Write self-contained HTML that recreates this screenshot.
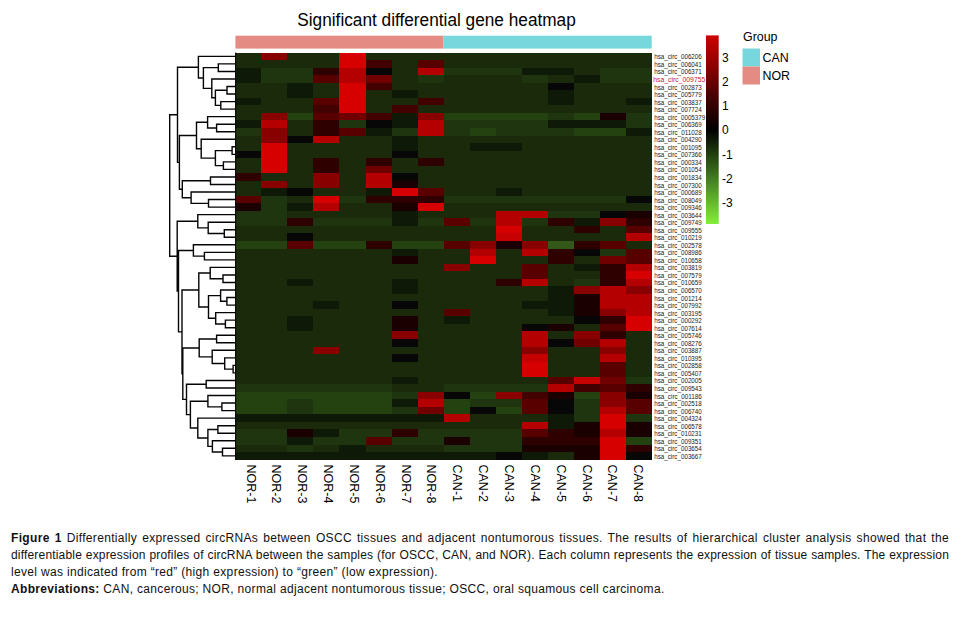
<!DOCTYPE html>
<html><head><meta charset="utf-8"><style>
html,body{margin:0;padding:0;background:#fff;}
body{width:962px;height:618px;position:relative;overflow:hidden;}
.cap{position:absolute;left:11px;top:530px;width:938px;font-family:"Liberation Sans",sans-serif;font-size:12px;color:#111;letter-spacing:0.33px;}
.ln{height:17px;line-height:17px;white-space:nowrap;}
.j{text-align:justify;text-align-last:justify;white-space:normal;}
</style></head><body>
<svg width="962" height="510" viewBox="0 0 962 510" style="position:absolute;left:0;top:0">
<style>
.rl{font-family:"Liberation Sans",sans-serif;font-size:6.9px;fill:#1a1a1a}
.cl{font-family:"Liberation Sans",sans-serif;font-size:12.5px;fill:#000}
.tk{font-family:"Liberation Sans",sans-serif;font-size:12px;fill:#000}
.tt{font-family:"Liberation Sans",sans-serif;font-size:18.3px;fill:#000}
.lg{font-family:"Liberation Sans",sans-serif;font-size:12.4px;fill:#000}
</style>
<defs><linearGradient id="kg" x1="0" y1="0" x2="0" y2="1">
<stop offset="0" stop-color="#cc0000"/><stop offset="0.5" stop-color="#000000"/><stop offset="1" stop-color="#80f03c"/>
</linearGradient></defs>
<rect x="706" y="35.4" width="12.7" height="188.6" fill="url(#kg)"/>
<text x="297.3" y="26" class="tt" textLength="278.5" lengthAdjust="spacingAndGlyphs">Significant differential gene heatmap</text>
<rect x="235.40" y="35.7" width="208.16" height="12.9" fill="#e48c84"/>
<rect x="443.56" y="35.7" width="208.16" height="12.9" fill="#78d7dc"/>
<g shape-rendering="crispEdges"><rect x="235.40" y="52.60" width="26.02" height="7.54" fill="#1a2a0b"/><rect x="261.42" y="52.60" width="26.02" height="7.54" fill="#880000"/><rect x="287.44" y="52.60" width="26.02" height="7.54" fill="#1a2a0b"/><rect x="313.46" y="52.60" width="26.02" height="7.54" fill="#1a2a0b"/><rect x="339.48" y="52.60" width="26.02" height="7.54" fill="#d60000"/><rect x="365.50" y="52.60" width="26.02" height="7.54" fill="#1a2a0b"/><rect x="391.52" y="52.60" width="26.02" height="7.54" fill="#1a2a0b"/><rect x="417.54" y="52.60" width="26.02" height="7.54" fill="#1a2a0b"/><rect x="443.56" y="52.60" width="26.02" height="7.54" fill="#1a2a0b"/><rect x="469.58" y="52.60" width="26.02" height="7.54" fill="#1a2a0b"/><rect x="495.60" y="52.60" width="26.02" height="7.54" fill="#1a2a0b"/><rect x="521.62" y="52.60" width="26.02" height="7.54" fill="#1a2a0b"/><rect x="547.64" y="52.60" width="26.02" height="7.54" fill="#1a2a0b"/><rect x="573.66" y="52.60" width="26.02" height="7.54" fill="#1a2a0b"/><rect x="599.68" y="52.60" width="26.02" height="7.54" fill="#1a2a0b"/><rect x="625.70" y="52.60" width="26.02" height="7.54" fill="#1a2a0b"/><rect x="235.40" y="60.14" width="26.02" height="7.54" fill="#1a2a0b"/><rect x="261.42" y="60.14" width="26.02" height="7.54" fill="#1a2a0b"/><rect x="287.44" y="60.14" width="26.02" height="7.54" fill="#1a2a0b"/><rect x="313.46" y="60.14" width="26.02" height="7.54" fill="#1a2a0b"/><rect x="339.48" y="60.14" width="26.02" height="7.54" fill="#d60000"/><rect x="365.50" y="60.14" width="26.02" height="7.54" fill="#420000"/><rect x="391.52" y="60.14" width="26.02" height="7.54" fill="#1a2a0b"/><rect x="417.54" y="60.14" width="26.02" height="7.54" fill="#580000"/><rect x="443.56" y="60.14" width="26.02" height="7.54" fill="#1a2a0b"/><rect x="469.58" y="60.14" width="26.02" height="7.54" fill="#1a2a0b"/><rect x="495.60" y="60.14" width="26.02" height="7.54" fill="#1a2a0b"/><rect x="521.62" y="60.14" width="26.02" height="7.54" fill="#1a2a0b"/><rect x="547.64" y="60.14" width="26.02" height="7.54" fill="#1a2a0b"/><rect x="573.66" y="60.14" width="26.02" height="7.54" fill="#1a2a0b"/><rect x="599.68" y="60.14" width="26.02" height="7.54" fill="#1a2a0b"/><rect x="625.70" y="60.14" width="26.02" height="7.54" fill="#1a2a0b"/><rect x="235.40" y="67.67" width="26.02" height="7.54" fill="#0f1907"/><rect x="261.42" y="67.67" width="26.02" height="7.54" fill="#1f3510"/><rect x="287.44" y="67.67" width="26.02" height="7.54" fill="#1f3510"/><rect x="313.46" y="67.67" width="26.02" height="7.54" fill="#2e0000"/><rect x="339.48" y="67.67" width="26.02" height="7.54" fill="#b40000"/><rect x="365.50" y="67.67" width="26.02" height="7.54" fill="#070707"/><rect x="391.52" y="67.67" width="26.02" height="7.54" fill="#1a2a0b"/><rect x="417.54" y="67.67" width="26.02" height="7.54" fill="#b40000"/><rect x="443.56" y="67.67" width="26.02" height="7.54" fill="#1f3510"/><rect x="469.58" y="67.67" width="26.02" height="7.54" fill="#1f3510"/><rect x="495.60" y="67.67" width="26.02" height="7.54" fill="#1f3510"/><rect x="521.62" y="67.67" width="26.02" height="7.54" fill="#0f1907"/><rect x="547.64" y="67.67" width="26.02" height="7.54" fill="#0f1907"/><rect x="573.66" y="67.67" width="26.02" height="7.54" fill="#1a2a0b"/><rect x="599.68" y="67.67" width="26.02" height="7.54" fill="#1f3510"/><rect x="625.70" y="67.67" width="26.02" height="7.54" fill="#1f3510"/><rect x="235.40" y="75.21" width="26.02" height="7.54" fill="#0f1907"/><rect x="261.42" y="75.21" width="26.02" height="7.54" fill="#1f3510"/><rect x="287.44" y="75.21" width="26.02" height="7.54" fill="#1f3510"/><rect x="313.46" y="75.21" width="26.02" height="7.54" fill="#580000"/><rect x="339.48" y="75.21" width="26.02" height="7.54" fill="#b40000"/><rect x="365.50" y="75.21" width="26.02" height="7.54" fill="#700000"/><rect x="391.52" y="75.21" width="26.02" height="7.54" fill="#1a2a0b"/><rect x="417.54" y="75.21" width="26.02" height="7.54" fill="#1f3510"/><rect x="443.56" y="75.21" width="26.02" height="7.54" fill="#1a2a0b"/><rect x="469.58" y="75.21" width="26.02" height="7.54" fill="#1a2a0b"/><rect x="495.60" y="75.21" width="26.02" height="7.54" fill="#1a2a0b"/><rect x="521.62" y="75.21" width="26.02" height="7.54" fill="#1f3510"/><rect x="547.64" y="75.21" width="26.02" height="7.54" fill="#1a2a0b"/><rect x="573.66" y="75.21" width="26.02" height="7.54" fill="#0f1907"/><rect x="599.68" y="75.21" width="26.02" height="7.54" fill="#1f3510"/><rect x="625.70" y="75.21" width="26.02" height="7.54" fill="#1f3510"/><rect x="235.40" y="82.75" width="26.02" height="7.54" fill="#1a2a0b"/><rect x="261.42" y="82.75" width="26.02" height="7.54" fill="#1a2a0b"/><rect x="287.44" y="82.75" width="26.02" height="7.54" fill="#0f1907"/><rect x="313.46" y="82.75" width="26.02" height="7.54" fill="#1a2a0b"/><rect x="339.48" y="82.75" width="26.02" height="7.54" fill="#d60000"/><rect x="365.50" y="82.75" width="26.02" height="7.54" fill="#420000"/><rect x="391.52" y="82.75" width="26.02" height="7.54" fill="#1a2a0b"/><rect x="417.54" y="82.75" width="26.02" height="7.54" fill="#1a2a0b"/><rect x="443.56" y="82.75" width="26.02" height="7.54" fill="#1a2a0b"/><rect x="469.58" y="82.75" width="26.02" height="7.54" fill="#1a2a0b"/><rect x="495.60" y="82.75" width="26.02" height="7.54" fill="#1a2a0b"/><rect x="521.62" y="82.75" width="26.02" height="7.54" fill="#1a2a0b"/><rect x="547.64" y="82.75" width="26.02" height="7.54" fill="#070707"/><rect x="573.66" y="82.75" width="26.02" height="7.54" fill="#1a2a0b"/><rect x="599.68" y="82.75" width="26.02" height="7.54" fill="#1a2a0b"/><rect x="625.70" y="82.75" width="26.02" height="7.54" fill="#1a2a0b"/><rect x="235.40" y="90.28" width="26.02" height="7.54" fill="#1a2a0b"/><rect x="261.42" y="90.28" width="26.02" height="7.54" fill="#1a2a0b"/><rect x="287.44" y="90.28" width="26.02" height="7.54" fill="#0f1907"/><rect x="313.46" y="90.28" width="26.02" height="7.54" fill="#1a2a0b"/><rect x="339.48" y="90.28" width="26.02" height="7.54" fill="#d60000"/><rect x="365.50" y="90.28" width="26.02" height="7.54" fill="#1a2a0b"/><rect x="391.52" y="90.28" width="26.02" height="7.54" fill="#0f1907"/><rect x="417.54" y="90.28" width="26.02" height="7.54" fill="#1a2a0b"/><rect x="443.56" y="90.28" width="26.02" height="7.54" fill="#1a2a0b"/><rect x="469.58" y="90.28" width="26.02" height="7.54" fill="#1a2a0b"/><rect x="495.60" y="90.28" width="26.02" height="7.54" fill="#1a2a0b"/><rect x="521.62" y="90.28" width="26.02" height="7.54" fill="#1a2a0b"/><rect x="547.64" y="90.28" width="26.02" height="7.54" fill="#0f1907"/><rect x="573.66" y="90.28" width="26.02" height="7.54" fill="#1a2a0b"/><rect x="599.68" y="90.28" width="26.02" height="7.54" fill="#1a2a0b"/><rect x="625.70" y="90.28" width="26.02" height="7.54" fill="#1a2a0b"/><rect x="235.40" y="97.82" width="26.02" height="7.54" fill="#0f1907"/><rect x="261.42" y="97.82" width="26.02" height="7.54" fill="#1a2a0b"/><rect x="287.44" y="97.82" width="26.02" height="7.54" fill="#1a2a0b"/><rect x="313.46" y="97.82" width="26.02" height="7.54" fill="#580000"/><rect x="339.48" y="97.82" width="26.02" height="7.54" fill="#d60000"/><rect x="365.50" y="97.82" width="26.02" height="7.54" fill="#1a2a0b"/><rect x="391.52" y="97.82" width="26.02" height="7.54" fill="#1a2a0b"/><rect x="417.54" y="97.82" width="26.02" height="7.54" fill="#420000"/><rect x="443.56" y="97.82" width="26.02" height="7.54" fill="#1a2a0b"/><rect x="469.58" y="97.82" width="26.02" height="7.54" fill="#1a2a0b"/><rect x="495.60" y="97.82" width="26.02" height="7.54" fill="#1a2a0b"/><rect x="521.62" y="97.82" width="26.02" height="7.54" fill="#1a2a0b"/><rect x="547.64" y="97.82" width="26.02" height="7.54" fill="#0f1907"/><rect x="573.66" y="97.82" width="26.02" height="7.54" fill="#1a2a0b"/><rect x="599.68" y="97.82" width="26.02" height="7.54" fill="#1a2a0b"/><rect x="625.70" y="97.82" width="26.02" height="7.54" fill="#0f1907"/><rect x="235.40" y="105.36" width="26.02" height="7.54" fill="#1a2a0b"/><rect x="261.42" y="105.36" width="26.02" height="7.54" fill="#1a2a0b"/><rect x="287.44" y="105.36" width="26.02" height="7.54" fill="#1a2a0b"/><rect x="313.46" y="105.36" width="26.02" height="7.54" fill="#420000"/><rect x="339.48" y="105.36" width="26.02" height="7.54" fill="#d60000"/><rect x="365.50" y="105.36" width="26.02" height="7.54" fill="#1a2a0b"/><rect x="391.52" y="105.36" width="26.02" height="7.54" fill="#420000"/><rect x="417.54" y="105.36" width="26.02" height="7.54" fill="#1a2a0b"/><rect x="443.56" y="105.36" width="26.02" height="7.54" fill="#1a2a0b"/><rect x="469.58" y="105.36" width="26.02" height="7.54" fill="#1a2a0b"/><rect x="495.60" y="105.36" width="26.02" height="7.54" fill="#1a2a0b"/><rect x="521.62" y="105.36" width="26.02" height="7.54" fill="#1a2a0b"/><rect x="547.64" y="105.36" width="26.02" height="7.54" fill="#1a2a0b"/><rect x="573.66" y="105.36" width="26.02" height="7.54" fill="#1a2a0b"/><rect x="599.68" y="105.36" width="26.02" height="7.54" fill="#1a2a0b"/><rect x="625.70" y="105.36" width="26.02" height="7.54" fill="#1a2a0b"/><rect x="235.40" y="112.90" width="26.02" height="7.54" fill="#1a2a0b"/><rect x="261.42" y="112.90" width="26.02" height="7.54" fill="#880000"/><rect x="287.44" y="112.90" width="26.02" height="7.54" fill="#24420f"/><rect x="313.46" y="112.90" width="26.02" height="7.54" fill="#580000"/><rect x="339.48" y="112.90" width="26.02" height="7.54" fill="#700000"/><rect x="365.50" y="112.90" width="26.02" height="7.54" fill="#420000"/><rect x="391.52" y="112.90" width="26.02" height="7.54" fill="#0f1907"/><rect x="417.54" y="112.90" width="26.02" height="7.54" fill="#880000"/><rect x="443.56" y="112.90" width="26.02" height="7.54" fill="#24420f"/><rect x="469.58" y="112.90" width="26.02" height="7.54" fill="#24420f"/><rect x="495.60" y="112.90" width="26.02" height="7.54" fill="#24420f"/><rect x="521.62" y="112.90" width="26.02" height="7.54" fill="#24420f"/><rect x="547.64" y="112.90" width="26.02" height="7.54" fill="#1f3510"/><rect x="573.66" y="112.90" width="26.02" height="7.54" fill="#24420f"/><rect x="599.68" y="112.90" width="26.02" height="7.54" fill="#1a0000"/><rect x="625.70" y="112.90" width="26.02" height="7.54" fill="#1f3510"/><rect x="235.40" y="120.43" width="26.02" height="7.54" fill="#0f1907"/><rect x="261.42" y="120.43" width="26.02" height="7.54" fill="#b40000"/><rect x="287.44" y="120.43" width="26.02" height="7.54" fill="#1a2a0b"/><rect x="313.46" y="120.43" width="26.02" height="7.54" fill="#2e0000"/><rect x="339.48" y="120.43" width="26.02" height="7.54" fill="#1f3510"/><rect x="365.50" y="120.43" width="26.02" height="7.54" fill="#070707"/><rect x="391.52" y="120.43" width="26.02" height="7.54" fill="#0f1907"/><rect x="417.54" y="120.43" width="26.02" height="7.54" fill="#b40000"/><rect x="443.56" y="120.43" width="26.02" height="7.54" fill="#1f3510"/><rect x="469.58" y="120.43" width="26.02" height="7.54" fill="#1f3510"/><rect x="495.60" y="120.43" width="26.02" height="7.54" fill="#1f3510"/><rect x="521.62" y="120.43" width="26.02" height="7.54" fill="#1f3510"/><rect x="547.64" y="120.43" width="26.02" height="7.54" fill="#0f1907"/><rect x="573.66" y="120.43" width="26.02" height="7.54" fill="#0f1907"/><rect x="599.68" y="120.43" width="26.02" height="7.54" fill="#0f1907"/><rect x="625.70" y="120.43" width="26.02" height="7.54" fill="#1f3510"/><rect x="235.40" y="127.97" width="26.02" height="7.54" fill="#1f3510"/><rect x="261.42" y="127.97" width="26.02" height="7.54" fill="#880000"/><rect x="287.44" y="127.97" width="26.02" height="7.54" fill="#1a2a0b"/><rect x="313.46" y="127.97" width="26.02" height="7.54" fill="#2e0000"/><rect x="339.48" y="127.97" width="26.02" height="7.54" fill="#580000"/><rect x="365.50" y="127.97" width="26.02" height="7.54" fill="#0f1907"/><rect x="391.52" y="127.97" width="26.02" height="7.54" fill="#1f3510"/><rect x="417.54" y="127.97" width="26.02" height="7.54" fill="#b40000"/><rect x="443.56" y="127.97" width="26.02" height="7.54" fill="#1f3510"/><rect x="469.58" y="127.97" width="26.02" height="7.54" fill="#24420f"/><rect x="495.60" y="127.97" width="26.02" height="7.54" fill="#1f3510"/><rect x="521.62" y="127.97" width="26.02" height="7.54" fill="#1f3510"/><rect x="547.64" y="127.97" width="26.02" height="7.54" fill="#1f3510"/><rect x="573.66" y="127.97" width="26.02" height="7.54" fill="#24420f"/><rect x="599.68" y="127.97" width="26.02" height="7.54" fill="#24420f"/><rect x="625.70" y="127.97" width="26.02" height="7.54" fill="#0f1907"/><rect x="235.40" y="135.51" width="26.02" height="7.54" fill="#1a2a0b"/><rect x="261.42" y="135.51" width="26.02" height="7.54" fill="#880000"/><rect x="287.44" y="135.51" width="26.02" height="7.54" fill="#070707"/><rect x="313.46" y="135.51" width="26.02" height="7.54" fill="#b40000"/><rect x="339.48" y="135.51" width="26.02" height="7.54" fill="#1a2a0b"/><rect x="365.50" y="135.51" width="26.02" height="7.54" fill="#1a2a0b"/><rect x="391.52" y="135.51" width="26.02" height="7.54" fill="#0f1907"/><rect x="417.54" y="135.51" width="26.02" height="7.54" fill="#1a2a0b"/><rect x="443.56" y="135.51" width="26.02" height="7.54" fill="#1a2a0b"/><rect x="469.58" y="135.51" width="26.02" height="7.54" fill="#1a2a0b"/><rect x="495.60" y="135.51" width="26.02" height="7.54" fill="#1a2a0b"/><rect x="521.62" y="135.51" width="26.02" height="7.54" fill="#1a2a0b"/><rect x="547.64" y="135.51" width="26.02" height="7.54" fill="#1a2a0b"/><rect x="573.66" y="135.51" width="26.02" height="7.54" fill="#1a2a0b"/><rect x="599.68" y="135.51" width="26.02" height="7.54" fill="#1a2a0b"/><rect x="625.70" y="135.51" width="26.02" height="7.54" fill="#1a2a0b"/><rect x="235.40" y="143.04" width="26.02" height="7.54" fill="#1a2a0b"/><rect x="261.42" y="143.04" width="26.02" height="7.54" fill="#d60000"/><rect x="287.44" y="143.04" width="26.02" height="7.54" fill="#1a2a0b"/><rect x="313.46" y="143.04" width="26.02" height="7.54" fill="#1a2a0b"/><rect x="339.48" y="143.04" width="26.02" height="7.54" fill="#1a2a0b"/><rect x="365.50" y="143.04" width="26.02" height="7.54" fill="#1a2a0b"/><rect x="391.52" y="143.04" width="26.02" height="7.54" fill="#0f1907"/><rect x="417.54" y="143.04" width="26.02" height="7.54" fill="#1a2a0b"/><rect x="443.56" y="143.04" width="26.02" height="7.54" fill="#1a2a0b"/><rect x="469.58" y="143.04" width="26.02" height="7.54" fill="#0f1907"/><rect x="495.60" y="143.04" width="26.02" height="7.54" fill="#0f1907"/><rect x="521.62" y="143.04" width="26.02" height="7.54" fill="#1a2a0b"/><rect x="547.64" y="143.04" width="26.02" height="7.54" fill="#1a2a0b"/><rect x="573.66" y="143.04" width="26.02" height="7.54" fill="#1a2a0b"/><rect x="599.68" y="143.04" width="26.02" height="7.54" fill="#1a2a0b"/><rect x="625.70" y="143.04" width="26.02" height="7.54" fill="#1a2a0b"/><rect x="235.40" y="150.58" width="26.02" height="7.54" fill="#070707"/><rect x="261.42" y="150.58" width="26.02" height="7.54" fill="#d60000"/><rect x="287.44" y="150.58" width="26.02" height="7.54" fill="#1a2a0b"/><rect x="313.46" y="150.58" width="26.02" height="7.54" fill="#1a2a0b"/><rect x="339.48" y="150.58" width="26.02" height="7.54" fill="#1a2a0b"/><rect x="365.50" y="150.58" width="26.02" height="7.54" fill="#1a2a0b"/><rect x="391.52" y="150.58" width="26.02" height="7.54" fill="#070707"/><rect x="417.54" y="150.58" width="26.02" height="7.54" fill="#1a2a0b"/><rect x="443.56" y="150.58" width="26.02" height="7.54" fill="#1a2a0b"/><rect x="469.58" y="150.58" width="26.02" height="7.54" fill="#1a2a0b"/><rect x="495.60" y="150.58" width="26.02" height="7.54" fill="#1a2a0b"/><rect x="521.62" y="150.58" width="26.02" height="7.54" fill="#1a2a0b"/><rect x="547.64" y="150.58" width="26.02" height="7.54" fill="#1a2a0b"/><rect x="573.66" y="150.58" width="26.02" height="7.54" fill="#1a2a0b"/><rect x="599.68" y="150.58" width="26.02" height="7.54" fill="#1a2a0b"/><rect x="625.70" y="150.58" width="26.02" height="7.54" fill="#1a2a0b"/><rect x="235.40" y="158.12" width="26.02" height="7.54" fill="#1a2a0b"/><rect x="261.42" y="158.12" width="26.02" height="7.54" fill="#d60000"/><rect x="287.44" y="158.12" width="26.02" height="7.54" fill="#1a2a0b"/><rect x="313.46" y="158.12" width="26.02" height="7.54" fill="#2e0000"/><rect x="339.48" y="158.12" width="26.02" height="7.54" fill="#1a2a0b"/><rect x="365.50" y="158.12" width="26.02" height="7.54" fill="#2e0000"/><rect x="391.52" y="158.12" width="26.02" height="7.54" fill="#1a2a0b"/><rect x="417.54" y="158.12" width="26.02" height="7.54" fill="#2e0000"/><rect x="443.56" y="158.12" width="26.02" height="7.54" fill="#1a2a0b"/><rect x="469.58" y="158.12" width="26.02" height="7.54" fill="#1a2a0b"/><rect x="495.60" y="158.12" width="26.02" height="7.54" fill="#1a2a0b"/><rect x="521.62" y="158.12" width="26.02" height="7.54" fill="#1a2a0b"/><rect x="547.64" y="158.12" width="26.02" height="7.54" fill="#1a2a0b"/><rect x="573.66" y="158.12" width="26.02" height="7.54" fill="#1a2a0b"/><rect x="599.68" y="158.12" width="26.02" height="7.54" fill="#1a2a0b"/><rect x="625.70" y="158.12" width="26.02" height="7.54" fill="#1a2a0b"/><rect x="235.40" y="165.66" width="26.02" height="7.54" fill="#1a2a0b"/><rect x="261.42" y="165.66" width="26.02" height="7.54" fill="#d60000"/><rect x="287.44" y="165.66" width="26.02" height="7.54" fill="#1a2a0b"/><rect x="313.46" y="165.66" width="26.02" height="7.54" fill="#2e0000"/><rect x="339.48" y="165.66" width="26.02" height="7.54" fill="#1a2a0b"/><rect x="365.50" y="165.66" width="26.02" height="7.54" fill="#700000"/><rect x="391.52" y="165.66" width="26.02" height="7.54" fill="#1a2a0b"/><rect x="417.54" y="165.66" width="26.02" height="7.54" fill="#1a2a0b"/><rect x="443.56" y="165.66" width="26.02" height="7.54" fill="#1a2a0b"/><rect x="469.58" y="165.66" width="26.02" height="7.54" fill="#1a2a0b"/><rect x="495.60" y="165.66" width="26.02" height="7.54" fill="#1a2a0b"/><rect x="521.62" y="165.66" width="26.02" height="7.54" fill="#1a2a0b"/><rect x="547.64" y="165.66" width="26.02" height="7.54" fill="#1a2a0b"/><rect x="573.66" y="165.66" width="26.02" height="7.54" fill="#1a2a0b"/><rect x="599.68" y="165.66" width="26.02" height="7.54" fill="#1a2a0b"/><rect x="625.70" y="165.66" width="26.02" height="7.54" fill="#1a2a0b"/><rect x="235.40" y="173.19" width="26.02" height="7.54" fill="#2e0000"/><rect x="261.42" y="173.19" width="26.02" height="7.54" fill="#1a2a0b"/><rect x="287.44" y="173.19" width="26.02" height="7.54" fill="#1a2a0b"/><rect x="313.46" y="173.19" width="26.02" height="7.54" fill="#880000"/><rect x="339.48" y="173.19" width="26.02" height="7.54" fill="#1a2a0b"/><rect x="365.50" y="173.19" width="26.02" height="7.54" fill="#b40000"/><rect x="391.52" y="173.19" width="26.02" height="7.54" fill="#070707"/><rect x="417.54" y="173.19" width="26.02" height="7.54" fill="#1a2a0b"/><rect x="443.56" y="173.19" width="26.02" height="7.54" fill="#1a2a0b"/><rect x="469.58" y="173.19" width="26.02" height="7.54" fill="#1a2a0b"/><rect x="495.60" y="173.19" width="26.02" height="7.54" fill="#1a2a0b"/><rect x="521.62" y="173.19" width="26.02" height="7.54" fill="#1a2a0b"/><rect x="547.64" y="173.19" width="26.02" height="7.54" fill="#1a2a0b"/><rect x="573.66" y="173.19" width="26.02" height="7.54" fill="#1a2a0b"/><rect x="599.68" y="173.19" width="26.02" height="7.54" fill="#1a2a0b"/><rect x="625.70" y="173.19" width="26.02" height="7.54" fill="#1a2a0b"/><rect x="235.40" y="180.73" width="26.02" height="7.54" fill="#1a2a0b"/><rect x="261.42" y="180.73" width="26.02" height="7.54" fill="#880000"/><rect x="287.44" y="180.73" width="26.02" height="7.54" fill="#1a2a0b"/><rect x="313.46" y="180.73" width="26.02" height="7.54" fill="#880000"/><rect x="339.48" y="180.73" width="26.02" height="7.54" fill="#1a2a0b"/><rect x="365.50" y="180.73" width="26.02" height="7.54" fill="#b40000"/><rect x="391.52" y="180.73" width="26.02" height="7.54" fill="#1a0000"/><rect x="417.54" y="180.73" width="26.02" height="7.54" fill="#1a2a0b"/><rect x="443.56" y="180.73" width="26.02" height="7.54" fill="#1a2a0b"/><rect x="469.58" y="180.73" width="26.02" height="7.54" fill="#1a2a0b"/><rect x="495.60" y="180.73" width="26.02" height="7.54" fill="#1a2a0b"/><rect x="521.62" y="180.73" width="26.02" height="7.54" fill="#1a2a0b"/><rect x="547.64" y="180.73" width="26.02" height="7.54" fill="#1a2a0b"/><rect x="573.66" y="180.73" width="26.02" height="7.54" fill="#1a2a0b"/><rect x="599.68" y="180.73" width="26.02" height="7.54" fill="#1a2a0b"/><rect x="625.70" y="180.73" width="26.02" height="7.54" fill="#1a2a0b"/><rect x="235.40" y="188.27" width="26.02" height="7.54" fill="#1a2a0b"/><rect x="261.42" y="188.27" width="26.02" height="7.54" fill="#0f1907"/><rect x="287.44" y="188.27" width="26.02" height="7.54" fill="#070707"/><rect x="313.46" y="188.27" width="26.02" height="7.54" fill="#1a2a0b"/><rect x="339.48" y="188.27" width="26.02" height="7.54" fill="#1a2a0b"/><rect x="365.50" y="188.27" width="26.02" height="7.54" fill="#0f1907"/><rect x="391.52" y="188.27" width="26.02" height="7.54" fill="#d60000"/><rect x="417.54" y="188.27" width="26.02" height="7.54" fill="#580000"/><rect x="443.56" y="188.27" width="26.02" height="7.54" fill="#1a2a0b"/><rect x="469.58" y="188.27" width="26.02" height="7.54" fill="#1a2a0b"/><rect x="495.60" y="188.27" width="26.02" height="7.54" fill="#0f1907"/><rect x="521.62" y="188.27" width="26.02" height="7.54" fill="#1a2a0b"/><rect x="547.64" y="188.27" width="26.02" height="7.54" fill="#1a2a0b"/><rect x="573.66" y="188.27" width="26.02" height="7.54" fill="#1a2a0b"/><rect x="599.68" y="188.27" width="26.02" height="7.54" fill="#1a2a0b"/><rect x="625.70" y="188.27" width="26.02" height="7.54" fill="#1a2a0b"/><rect x="235.40" y="195.80" width="26.02" height="7.54" fill="#580000"/><rect x="261.42" y="195.80" width="26.02" height="7.54" fill="#1f3510"/><rect x="287.44" y="195.80" width="26.02" height="7.54" fill="#1a2a0b"/><rect x="313.46" y="195.80" width="26.02" height="7.54" fill="#d60000"/><rect x="339.48" y="195.80" width="26.02" height="7.54" fill="#1f3510"/><rect x="365.50" y="195.80" width="26.02" height="7.54" fill="#2e0000"/><rect x="391.52" y="195.80" width="26.02" height="7.54" fill="#2e0000"/><rect x="417.54" y="195.80" width="26.02" height="7.54" fill="#2e0000"/><rect x="443.56" y="195.80" width="26.02" height="7.54" fill="#1f3510"/><rect x="469.58" y="195.80" width="26.02" height="7.54" fill="#1f3510"/><rect x="495.60" y="195.80" width="26.02" height="7.54" fill="#1f3510"/><rect x="521.62" y="195.80" width="26.02" height="7.54" fill="#1f3510"/><rect x="547.64" y="195.80" width="26.02" height="7.54" fill="#1f3510"/><rect x="573.66" y="195.80" width="26.02" height="7.54" fill="#1f3510"/><rect x="599.68" y="195.80" width="26.02" height="7.54" fill="#1f3510"/><rect x="625.70" y="195.80" width="26.02" height="7.54" fill="#070707"/><rect x="235.40" y="203.34" width="26.02" height="7.54" fill="#1a0000"/><rect x="261.42" y="203.34" width="26.02" height="7.54" fill="#1f3510"/><rect x="287.44" y="203.34" width="26.02" height="7.54" fill="#0f1907"/><rect x="313.46" y="203.34" width="26.02" height="7.54" fill="#b40000"/><rect x="339.48" y="203.34" width="26.02" height="7.54" fill="#1a2a0b"/><rect x="365.50" y="203.34" width="26.02" height="7.54" fill="#1a2a0b"/><rect x="391.52" y="203.34" width="26.02" height="7.54" fill="#1a0000"/><rect x="417.54" y="203.34" width="26.02" height="7.54" fill="#d60000"/><rect x="443.56" y="203.34" width="26.02" height="7.54" fill="#1a2a0b"/><rect x="469.58" y="203.34" width="26.02" height="7.54" fill="#1a2a0b"/><rect x="495.60" y="203.34" width="26.02" height="7.54" fill="#1a2a0b"/><rect x="521.62" y="203.34" width="26.02" height="7.54" fill="#1a2a0b"/><rect x="547.64" y="203.34" width="26.02" height="7.54" fill="#1a2a0b"/><rect x="573.66" y="203.34" width="26.02" height="7.54" fill="#1a2a0b"/><rect x="599.68" y="203.34" width="26.02" height="7.54" fill="#1a2a0b"/><rect x="625.70" y="203.34" width="26.02" height="7.54" fill="#1a2a0b"/><rect x="235.40" y="210.88" width="26.02" height="7.54" fill="#1f3510"/><rect x="261.42" y="210.88" width="26.02" height="7.54" fill="#1f3510"/><rect x="287.44" y="210.88" width="26.02" height="7.54" fill="#1a2a0b"/><rect x="313.46" y="210.88" width="26.02" height="7.54" fill="#1a2a0b"/><rect x="339.48" y="210.88" width="26.02" height="7.54" fill="#1a2a0b"/><rect x="365.50" y="210.88" width="26.02" height="7.54" fill="#1a2a0b"/><rect x="391.52" y="210.88" width="26.02" height="7.54" fill="#0f1907"/><rect x="417.54" y="210.88" width="26.02" height="7.54" fill="#1a2a0b"/><rect x="443.56" y="210.88" width="26.02" height="7.54" fill="#1a2a0b"/><rect x="469.58" y="210.88" width="26.02" height="7.54" fill="#1a2a0b"/><rect x="495.60" y="210.88" width="26.02" height="7.54" fill="#b40000"/><rect x="521.62" y="210.88" width="26.02" height="7.54" fill="#b40000"/><rect x="547.64" y="210.88" width="26.02" height="7.54" fill="#1f3510"/><rect x="573.66" y="210.88" width="26.02" height="7.54" fill="#1f3510"/><rect x="599.68" y="210.88" width="26.02" height="7.54" fill="#070707"/><rect x="625.70" y="210.88" width="26.02" height="7.54" fill="#1a0000"/><rect x="235.40" y="218.41" width="26.02" height="7.54" fill="#1f3510"/><rect x="261.42" y="218.41" width="26.02" height="7.54" fill="#1f3510"/><rect x="287.44" y="218.41" width="26.02" height="7.54" fill="#2e0000"/><rect x="313.46" y="218.41" width="26.02" height="7.54" fill="#1f3510"/><rect x="339.48" y="218.41" width="26.02" height="7.54" fill="#1f3510"/><rect x="365.50" y="218.41" width="26.02" height="7.54" fill="#1f3510"/><rect x="391.52" y="218.41" width="26.02" height="7.54" fill="#0f1907"/><rect x="417.54" y="218.41" width="26.02" height="7.54" fill="#1f3510"/><rect x="443.56" y="218.41" width="26.02" height="7.54" fill="#580000"/><rect x="469.58" y="218.41" width="26.02" height="7.54" fill="#1f3510"/><rect x="495.60" y="218.41" width="26.02" height="7.54" fill="#b40000"/><rect x="521.62" y="218.41" width="26.02" height="7.54" fill="#1f3510"/><rect x="547.64" y="218.41" width="26.02" height="7.54" fill="#2e0000"/><rect x="573.66" y="218.41" width="26.02" height="7.54" fill="#0f1907"/><rect x="599.68" y="218.41" width="26.02" height="7.54" fill="#880000"/><rect x="625.70" y="218.41" width="26.02" height="7.54" fill="#2e0000"/><rect x="235.40" y="225.95" width="26.02" height="7.54" fill="#1a2a0b"/><rect x="261.42" y="225.95" width="26.02" height="7.54" fill="#1a2a0b"/><rect x="287.44" y="225.95" width="26.02" height="7.54" fill="#1a2a0b"/><rect x="313.46" y="225.95" width="26.02" height="7.54" fill="#1a2a0b"/><rect x="339.48" y="225.95" width="26.02" height="7.54" fill="#1a2a0b"/><rect x="365.50" y="225.95" width="26.02" height="7.54" fill="#1a2a0b"/><rect x="391.52" y="225.95" width="26.02" height="7.54" fill="#1a2a0b"/><rect x="417.54" y="225.95" width="26.02" height="7.54" fill="#1a2a0b"/><rect x="443.56" y="225.95" width="26.02" height="7.54" fill="#1a2a0b"/><rect x="469.58" y="225.95" width="26.02" height="7.54" fill="#1a2a0b"/><rect x="495.60" y="225.95" width="26.02" height="7.54" fill="#d60000"/><rect x="521.62" y="225.95" width="26.02" height="7.54" fill="#1a2a0b"/><rect x="547.64" y="225.95" width="26.02" height="7.54" fill="#1a2a0b"/><rect x="573.66" y="225.95" width="26.02" height="7.54" fill="#2e0000"/><rect x="599.68" y="225.95" width="26.02" height="7.54" fill="#1a2a0b"/><rect x="625.70" y="225.95" width="26.02" height="7.54" fill="#580000"/><rect x="235.40" y="233.49" width="26.02" height="7.54" fill="#1a2a0b"/><rect x="261.42" y="233.49" width="26.02" height="7.54" fill="#1a2a0b"/><rect x="287.44" y="233.49" width="26.02" height="7.54" fill="#070707"/><rect x="313.46" y="233.49" width="26.02" height="7.54" fill="#1a2a0b"/><rect x="339.48" y="233.49" width="26.02" height="7.54" fill="#1a2a0b"/><rect x="365.50" y="233.49" width="26.02" height="7.54" fill="#1a2a0b"/><rect x="391.52" y="233.49" width="26.02" height="7.54" fill="#1a2a0b"/><rect x="417.54" y="233.49" width="26.02" height="7.54" fill="#1a2a0b"/><rect x="443.56" y="233.49" width="26.02" height="7.54" fill="#1a2a0b"/><rect x="469.58" y="233.49" width="26.02" height="7.54" fill="#1a2a0b"/><rect x="495.60" y="233.49" width="26.02" height="7.54" fill="#c60000"/><rect x="521.62" y="233.49" width="26.02" height="7.54" fill="#1a2a0b"/><rect x="547.64" y="233.49" width="26.02" height="7.54" fill="#1a2a0b"/><rect x="573.66" y="233.49" width="26.02" height="7.54" fill="#1a2a0b"/><rect x="599.68" y="233.49" width="26.02" height="7.54" fill="#1a2a0b"/><rect x="625.70" y="233.49" width="26.02" height="7.54" fill="#b40000"/><rect x="235.40" y="241.03" width="26.02" height="7.54" fill="#24420f"/><rect x="261.42" y="241.03" width="26.02" height="7.54" fill="#24420f"/><rect x="287.44" y="241.03" width="26.02" height="7.54" fill="#580000"/><rect x="313.46" y="241.03" width="26.02" height="7.54" fill="#24420f"/><rect x="339.48" y="241.03" width="26.02" height="7.54" fill="#24420f"/><rect x="365.50" y="241.03" width="26.02" height="7.54" fill="#2e0000"/><rect x="391.52" y="241.03" width="26.02" height="7.54" fill="#24420f"/><rect x="417.54" y="241.03" width="26.02" height="7.54" fill="#24420f"/><rect x="443.56" y="241.03" width="26.02" height="7.54" fill="#580000"/><rect x="469.58" y="241.03" width="26.02" height="7.54" fill="#880000"/><rect x="495.60" y="241.03" width="26.02" height="7.54" fill="#1a0000"/><rect x="521.62" y="241.03" width="26.02" height="7.54" fill="#880000"/><rect x="547.64" y="241.03" width="26.02" height="7.54" fill="#33581a"/><rect x="573.66" y="241.03" width="26.02" height="7.54" fill="#2e0000"/><rect x="599.68" y="241.03" width="26.02" height="7.54" fill="#580000"/><rect x="625.70" y="241.03" width="26.02" height="7.54" fill="#1a2a0b"/><rect x="235.40" y="248.56" width="26.02" height="7.54" fill="#1a2a0b"/><rect x="261.42" y="248.56" width="26.02" height="7.54" fill="#1a2a0b"/><rect x="287.44" y="248.56" width="26.02" height="7.54" fill="#1a2a0b"/><rect x="313.46" y="248.56" width="26.02" height="7.54" fill="#1a2a0b"/><rect x="339.48" y="248.56" width="26.02" height="7.54" fill="#1a2a0b"/><rect x="365.50" y="248.56" width="26.02" height="7.54" fill="#1a2a0b"/><rect x="391.52" y="248.56" width="26.02" height="7.54" fill="#0f1907"/><rect x="417.54" y="248.56" width="26.02" height="7.54" fill="#1a2a0b"/><rect x="443.56" y="248.56" width="26.02" height="7.54" fill="#1a2a0b"/><rect x="469.58" y="248.56" width="26.02" height="7.54" fill="#b40000"/><rect x="495.60" y="248.56" width="26.02" height="7.54" fill="#1a2a0b"/><rect x="521.62" y="248.56" width="26.02" height="7.54" fill="#b40000"/><rect x="547.64" y="248.56" width="26.02" height="7.54" fill="#2e0000"/><rect x="573.66" y="248.56" width="26.02" height="7.54" fill="#070707"/><rect x="599.68" y="248.56" width="26.02" height="7.54" fill="#1f3510"/><rect x="625.70" y="248.56" width="26.02" height="7.54" fill="#580000"/><rect x="235.40" y="256.10" width="26.02" height="7.54" fill="#1a2a0b"/><rect x="261.42" y="256.10" width="26.02" height="7.54" fill="#1a2a0b"/><rect x="287.44" y="256.10" width="26.02" height="7.54" fill="#1a2a0b"/><rect x="313.46" y="256.10" width="26.02" height="7.54" fill="#1a2a0b"/><rect x="339.48" y="256.10" width="26.02" height="7.54" fill="#1a2a0b"/><rect x="365.50" y="256.10" width="26.02" height="7.54" fill="#1a2a0b"/><rect x="391.52" y="256.10" width="26.02" height="7.54" fill="#1a0000"/><rect x="417.54" y="256.10" width="26.02" height="7.54" fill="#1a2a0b"/><rect x="443.56" y="256.10" width="26.02" height="7.54" fill="#1a2a0b"/><rect x="469.58" y="256.10" width="26.02" height="7.54" fill="#d60000"/><rect x="495.60" y="256.10" width="26.02" height="7.54" fill="#1a2a0b"/><rect x="521.62" y="256.10" width="26.02" height="7.54" fill="#1a2a0b"/><rect x="547.64" y="256.10" width="26.02" height="7.54" fill="#2e0000"/><rect x="573.66" y="256.10" width="26.02" height="7.54" fill="#1a2a0b"/><rect x="599.68" y="256.10" width="26.02" height="7.54" fill="#700000"/><rect x="625.70" y="256.10" width="26.02" height="7.54" fill="#580000"/><rect x="235.40" y="263.64" width="26.02" height="7.54" fill="#1a2a0b"/><rect x="261.42" y="263.64" width="26.02" height="7.54" fill="#1a2a0b"/><rect x="287.44" y="263.64" width="26.02" height="7.54" fill="#1a2a0b"/><rect x="313.46" y="263.64" width="26.02" height="7.54" fill="#1a2a0b"/><rect x="339.48" y="263.64" width="26.02" height="7.54" fill="#1a2a0b"/><rect x="365.50" y="263.64" width="26.02" height="7.54" fill="#1a2a0b"/><rect x="391.52" y="263.64" width="26.02" height="7.54" fill="#1a2a0b"/><rect x="417.54" y="263.64" width="26.02" height="7.54" fill="#1a2a0b"/><rect x="443.56" y="263.64" width="26.02" height="7.54" fill="#880000"/><rect x="469.58" y="263.64" width="26.02" height="7.54" fill="#1a2a0b"/><rect x="495.60" y="263.64" width="26.02" height="7.54" fill="#1a2a0b"/><rect x="521.62" y="263.64" width="26.02" height="7.54" fill="#580000"/><rect x="547.64" y="263.64" width="26.02" height="7.54" fill="#1a2a0b"/><rect x="573.66" y="263.64" width="26.02" height="7.54" fill="#0f1907"/><rect x="599.68" y="263.64" width="26.02" height="7.54" fill="#2e0000"/><rect x="625.70" y="263.64" width="26.02" height="7.54" fill="#b40000"/><rect x="235.40" y="271.17" width="26.02" height="7.54" fill="#1a2a0b"/><rect x="261.42" y="271.17" width="26.02" height="7.54" fill="#1a2a0b"/><rect x="287.44" y="271.17" width="26.02" height="7.54" fill="#1a2a0b"/><rect x="313.46" y="271.17" width="26.02" height="7.54" fill="#1a2a0b"/><rect x="339.48" y="271.17" width="26.02" height="7.54" fill="#1a2a0b"/><rect x="365.50" y="271.17" width="26.02" height="7.54" fill="#1a2a0b"/><rect x="391.52" y="271.17" width="26.02" height="7.54" fill="#1a2a0b"/><rect x="417.54" y="271.17" width="26.02" height="7.54" fill="#1a2a0b"/><rect x="443.56" y="271.17" width="26.02" height="7.54" fill="#1a2a0b"/><rect x="469.58" y="271.17" width="26.02" height="7.54" fill="#1a2a0b"/><rect x="495.60" y="271.17" width="26.02" height="7.54" fill="#1a2a0b"/><rect x="521.62" y="271.17" width="26.02" height="7.54" fill="#580000"/><rect x="547.64" y="271.17" width="26.02" height="7.54" fill="#1a2a0b"/><rect x="573.66" y="271.17" width="26.02" height="7.54" fill="#1a2a0b"/><rect x="599.68" y="271.17" width="26.02" height="7.54" fill="#2e0000"/><rect x="625.70" y="271.17" width="26.02" height="7.54" fill="#d60000"/><rect x="235.40" y="278.71" width="26.02" height="7.54" fill="#1a2a0b"/><rect x="261.42" y="278.71" width="26.02" height="7.54" fill="#1a2a0b"/><rect x="287.44" y="278.71" width="26.02" height="7.54" fill="#0f1907"/><rect x="313.46" y="278.71" width="26.02" height="7.54" fill="#1a2a0b"/><rect x="339.48" y="278.71" width="26.02" height="7.54" fill="#1a2a0b"/><rect x="365.50" y="278.71" width="26.02" height="7.54" fill="#1a2a0b"/><rect x="391.52" y="278.71" width="26.02" height="7.54" fill="#0f1907"/><rect x="417.54" y="278.71" width="26.02" height="7.54" fill="#1a2a0b"/><rect x="443.56" y="278.71" width="26.02" height="7.54" fill="#1a2a0b"/><rect x="469.58" y="278.71" width="26.02" height="7.54" fill="#1a2a0b"/><rect x="495.60" y="278.71" width="26.02" height="7.54" fill="#2e0000"/><rect x="521.62" y="278.71" width="26.02" height="7.54" fill="#b40000"/><rect x="547.64" y="278.71" width="26.02" height="7.54" fill="#1a2a0b"/><rect x="573.66" y="278.71" width="26.02" height="7.54" fill="#1f3510"/><rect x="599.68" y="278.71" width="26.02" height="7.54" fill="#2e0000"/><rect x="625.70" y="278.71" width="26.02" height="7.54" fill="#b40000"/><rect x="235.40" y="286.25" width="26.02" height="7.54" fill="#1a2a0b"/><rect x="261.42" y="286.25" width="26.02" height="7.54" fill="#1a2a0b"/><rect x="287.44" y="286.25" width="26.02" height="7.54" fill="#1a2a0b"/><rect x="313.46" y="286.25" width="26.02" height="7.54" fill="#1a2a0b"/><rect x="339.48" y="286.25" width="26.02" height="7.54" fill="#1a2a0b"/><rect x="365.50" y="286.25" width="26.02" height="7.54" fill="#1a2a0b"/><rect x="391.52" y="286.25" width="26.02" height="7.54" fill="#0f1907"/><rect x="417.54" y="286.25" width="26.02" height="7.54" fill="#1a2a0b"/><rect x="443.56" y="286.25" width="26.02" height="7.54" fill="#1a2a0b"/><rect x="469.58" y="286.25" width="26.02" height="7.54" fill="#1a2a0b"/><rect x="495.60" y="286.25" width="26.02" height="7.54" fill="#1a2a0b"/><rect x="521.62" y="286.25" width="26.02" height="7.54" fill="#1a2a0b"/><rect x="547.64" y="286.25" width="26.02" height="7.54" fill="#0f1907"/><rect x="573.66" y="286.25" width="26.02" height="7.54" fill="#880000"/><rect x="599.68" y="286.25" width="26.02" height="7.54" fill="#b40000"/><rect x="625.70" y="286.25" width="26.02" height="7.54" fill="#880000"/><rect x="235.40" y="293.78" width="26.02" height="7.54" fill="#1a2a0b"/><rect x="261.42" y="293.78" width="26.02" height="7.54" fill="#1a2a0b"/><rect x="287.44" y="293.78" width="26.02" height="7.54" fill="#1a2a0b"/><rect x="313.46" y="293.78" width="26.02" height="7.54" fill="#1a2a0b"/><rect x="339.48" y="293.78" width="26.02" height="7.54" fill="#1a2a0b"/><rect x="365.50" y="293.78" width="26.02" height="7.54" fill="#1a2a0b"/><rect x="391.52" y="293.78" width="26.02" height="7.54" fill="#1a2a0b"/><rect x="417.54" y="293.78" width="26.02" height="7.54" fill="#1a2a0b"/><rect x="443.56" y="293.78" width="26.02" height="7.54" fill="#1a2a0b"/><rect x="469.58" y="293.78" width="26.02" height="7.54" fill="#1a2a0b"/><rect x="495.60" y="293.78" width="26.02" height="7.54" fill="#1a2a0b"/><rect x="521.62" y="293.78" width="26.02" height="7.54" fill="#1a2a0b"/><rect x="547.64" y="293.78" width="26.02" height="7.54" fill="#0f1907"/><rect x="573.66" y="293.78" width="26.02" height="7.54" fill="#1a0000"/><rect x="599.68" y="293.78" width="26.02" height="7.54" fill="#b40000"/><rect x="625.70" y="293.78" width="26.02" height="7.54" fill="#b40000"/><rect x="235.40" y="301.32" width="26.02" height="7.54" fill="#1a2a0b"/><rect x="261.42" y="301.32" width="26.02" height="7.54" fill="#1a2a0b"/><rect x="287.44" y="301.32" width="26.02" height="7.54" fill="#1a2a0b"/><rect x="313.46" y="301.32" width="26.02" height="7.54" fill="#0f1907"/><rect x="339.48" y="301.32" width="26.02" height="7.54" fill="#1a2a0b"/><rect x="365.50" y="301.32" width="26.02" height="7.54" fill="#1a2a0b"/><rect x="391.52" y="301.32" width="26.02" height="7.54" fill="#070707"/><rect x="417.54" y="301.32" width="26.02" height="7.54" fill="#1a2a0b"/><rect x="443.56" y="301.32" width="26.02" height="7.54" fill="#1a2a0b"/><rect x="469.58" y="301.32" width="26.02" height="7.54" fill="#1a2a0b"/><rect x="495.60" y="301.32" width="26.02" height="7.54" fill="#1a2a0b"/><rect x="521.62" y="301.32" width="26.02" height="7.54" fill="#0f1907"/><rect x="547.64" y="301.32" width="26.02" height="7.54" fill="#0f1907"/><rect x="573.66" y="301.32" width="26.02" height="7.54" fill="#1a0000"/><rect x="599.68" y="301.32" width="26.02" height="7.54" fill="#b40000"/><rect x="625.70" y="301.32" width="26.02" height="7.54" fill="#b40000"/><rect x="235.40" y="308.86" width="26.02" height="7.54" fill="#1a2a0b"/><rect x="261.42" y="308.86" width="26.02" height="7.54" fill="#1a2a0b"/><rect x="287.44" y="308.86" width="26.02" height="7.54" fill="#1a2a0b"/><rect x="313.46" y="308.86" width="26.02" height="7.54" fill="#1a2a0b"/><rect x="339.48" y="308.86" width="26.02" height="7.54" fill="#1a2a0b"/><rect x="365.50" y="308.86" width="26.02" height="7.54" fill="#1a2a0b"/><rect x="391.52" y="308.86" width="26.02" height="7.54" fill="#1a2a0b"/><rect x="417.54" y="308.86" width="26.02" height="7.54" fill="#1a2a0b"/><rect x="443.56" y="308.86" width="26.02" height="7.54" fill="#580000"/><rect x="469.58" y="308.86" width="26.02" height="7.54" fill="#1a2a0b"/><rect x="495.60" y="308.86" width="26.02" height="7.54" fill="#1a2a0b"/><rect x="521.62" y="308.86" width="26.02" height="7.54" fill="#1a2a0b"/><rect x="547.64" y="308.86" width="26.02" height="7.54" fill="#0f1907"/><rect x="573.66" y="308.86" width="26.02" height="7.54" fill="#1a0000"/><rect x="599.68" y="308.86" width="26.02" height="7.54" fill="#880000"/><rect x="625.70" y="308.86" width="26.02" height="7.54" fill="#b40000"/><rect x="235.40" y="316.40" width="26.02" height="7.54" fill="#1a2a0b"/><rect x="261.42" y="316.40" width="26.02" height="7.54" fill="#1a2a0b"/><rect x="287.44" y="316.40" width="26.02" height="7.54" fill="#0f1907"/><rect x="313.46" y="316.40" width="26.02" height="7.54" fill="#1a2a0b"/><rect x="339.48" y="316.40" width="26.02" height="7.54" fill="#1a2a0b"/><rect x="365.50" y="316.40" width="26.02" height="7.54" fill="#1a2a0b"/><rect x="391.52" y="316.40" width="26.02" height="7.54" fill="#1a0000"/><rect x="417.54" y="316.40" width="26.02" height="7.54" fill="#1a2a0b"/><rect x="443.56" y="316.40" width="26.02" height="7.54" fill="#0f1907"/><rect x="469.58" y="316.40" width="26.02" height="7.54" fill="#1a2a0b"/><rect x="495.60" y="316.40" width="26.02" height="7.54" fill="#1a2a0b"/><rect x="521.62" y="316.40" width="26.02" height="7.54" fill="#1a2a0b"/><rect x="547.64" y="316.40" width="26.02" height="7.54" fill="#1a2a0b"/><rect x="573.66" y="316.40" width="26.02" height="7.54" fill="#070707"/><rect x="599.68" y="316.40" width="26.02" height="7.54" fill="#2e0000"/><rect x="625.70" y="316.40" width="26.02" height="7.54" fill="#d60000"/><rect x="235.40" y="323.93" width="26.02" height="7.54" fill="#1a2a0b"/><rect x="261.42" y="323.93" width="26.02" height="7.54" fill="#1a2a0b"/><rect x="287.44" y="323.93" width="26.02" height="7.54" fill="#0f1907"/><rect x="313.46" y="323.93" width="26.02" height="7.54" fill="#1a2a0b"/><rect x="339.48" y="323.93" width="26.02" height="7.54" fill="#1a2a0b"/><rect x="365.50" y="323.93" width="26.02" height="7.54" fill="#1a2a0b"/><rect x="391.52" y="323.93" width="26.02" height="7.54" fill="#1a0000"/><rect x="417.54" y="323.93" width="26.02" height="7.54" fill="#1a2a0b"/><rect x="443.56" y="323.93" width="26.02" height="7.54" fill="#1a2a0b"/><rect x="469.58" y="323.93" width="26.02" height="7.54" fill="#1a2a0b"/><rect x="495.60" y="323.93" width="26.02" height="7.54" fill="#1a2a0b"/><rect x="521.62" y="323.93" width="26.02" height="7.54" fill="#070707"/><rect x="547.64" y="323.93" width="26.02" height="7.54" fill="#1a0000"/><rect x="573.66" y="323.93" width="26.02" height="7.54" fill="#1a2a0b"/><rect x="599.68" y="323.93" width="26.02" height="7.54" fill="#580000"/><rect x="625.70" y="323.93" width="26.02" height="7.54" fill="#d60000"/><rect x="235.40" y="331.47" width="26.02" height="7.54" fill="#1a2a0b"/><rect x="261.42" y="331.47" width="26.02" height="7.54" fill="#1a2a0b"/><rect x="287.44" y="331.47" width="26.02" height="7.54" fill="#1a2a0b"/><rect x="313.46" y="331.47" width="26.02" height="7.54" fill="#1a2a0b"/><rect x="339.48" y="331.47" width="26.02" height="7.54" fill="#1a2a0b"/><rect x="365.50" y="331.47" width="26.02" height="7.54" fill="#1a2a0b"/><rect x="391.52" y="331.47" width="26.02" height="7.54" fill="#880000"/><rect x="417.54" y="331.47" width="26.02" height="7.54" fill="#1a2a0b"/><rect x="443.56" y="331.47" width="26.02" height="7.54" fill="#1a2a0b"/><rect x="469.58" y="331.47" width="26.02" height="7.54" fill="#1a2a0b"/><rect x="495.60" y="331.47" width="26.02" height="7.54" fill="#1a2a0b"/><rect x="521.62" y="331.47" width="26.02" height="7.54" fill="#b40000"/><rect x="547.64" y="331.47" width="26.02" height="7.54" fill="#1a2a0b"/><rect x="573.66" y="331.47" width="26.02" height="7.54" fill="#880000"/><rect x="599.68" y="331.47" width="26.02" height="7.54" fill="#2e0000"/><rect x="625.70" y="331.47" width="26.02" height="7.54" fill="#1a2a0b"/><rect x="235.40" y="339.01" width="26.02" height="7.54" fill="#1a2a0b"/><rect x="261.42" y="339.01" width="26.02" height="7.54" fill="#1a2a0b"/><rect x="287.44" y="339.01" width="26.02" height="7.54" fill="#1a2a0b"/><rect x="313.46" y="339.01" width="26.02" height="7.54" fill="#1a2a0b"/><rect x="339.48" y="339.01" width="26.02" height="7.54" fill="#1a2a0b"/><rect x="365.50" y="339.01" width="26.02" height="7.54" fill="#1a2a0b"/><rect x="391.52" y="339.01" width="26.02" height="7.54" fill="#070707"/><rect x="417.54" y="339.01" width="26.02" height="7.54" fill="#1a2a0b"/><rect x="443.56" y="339.01" width="26.02" height="7.54" fill="#1a2a0b"/><rect x="469.58" y="339.01" width="26.02" height="7.54" fill="#1a2a0b"/><rect x="495.60" y="339.01" width="26.02" height="7.54" fill="#1a2a0b"/><rect x="521.62" y="339.01" width="26.02" height="7.54" fill="#b40000"/><rect x="547.64" y="339.01" width="26.02" height="7.54" fill="#070707"/><rect x="573.66" y="339.01" width="26.02" height="7.54" fill="#700000"/><rect x="599.68" y="339.01" width="26.02" height="7.54" fill="#b40000"/><rect x="625.70" y="339.01" width="26.02" height="7.54" fill="#1a2a0b"/><rect x="235.40" y="346.54" width="26.02" height="7.54" fill="#1a2a0b"/><rect x="261.42" y="346.54" width="26.02" height="7.54" fill="#1a2a0b"/><rect x="287.44" y="346.54" width="26.02" height="7.54" fill="#1a2a0b"/><rect x="313.46" y="346.54" width="26.02" height="7.54" fill="#880000"/><rect x="339.48" y="346.54" width="26.02" height="7.54" fill="#1a2a0b"/><rect x="365.50" y="346.54" width="26.02" height="7.54" fill="#1a2a0b"/><rect x="391.52" y="346.54" width="26.02" height="7.54" fill="#1a2a0b"/><rect x="417.54" y="346.54" width="26.02" height="7.54" fill="#1a2a0b"/><rect x="443.56" y="346.54" width="26.02" height="7.54" fill="#1a2a0b"/><rect x="469.58" y="346.54" width="26.02" height="7.54" fill="#1a2a0b"/><rect x="495.60" y="346.54" width="26.02" height="7.54" fill="#1a2a0b"/><rect x="521.62" y="346.54" width="26.02" height="7.54" fill="#880000"/><rect x="547.64" y="346.54" width="26.02" height="7.54" fill="#1a2a0b"/><rect x="573.66" y="346.54" width="26.02" height="7.54" fill="#1a2a0b"/><rect x="599.68" y="346.54" width="26.02" height="7.54" fill="#880000"/><rect x="625.70" y="346.54" width="26.02" height="7.54" fill="#1a2a0b"/><rect x="235.40" y="354.08" width="26.02" height="7.54" fill="#1a2a0b"/><rect x="261.42" y="354.08" width="26.02" height="7.54" fill="#1a2a0b"/><rect x="287.44" y="354.08" width="26.02" height="7.54" fill="#1a2a0b"/><rect x="313.46" y="354.08" width="26.02" height="7.54" fill="#1a2a0b"/><rect x="339.48" y="354.08" width="26.02" height="7.54" fill="#1a2a0b"/><rect x="365.50" y="354.08" width="26.02" height="7.54" fill="#1a2a0b"/><rect x="391.52" y="354.08" width="26.02" height="7.54" fill="#070707"/><rect x="417.54" y="354.08" width="26.02" height="7.54" fill="#1a2a0b"/><rect x="443.56" y="354.08" width="26.02" height="7.54" fill="#1a2a0b"/><rect x="469.58" y="354.08" width="26.02" height="7.54" fill="#1a2a0b"/><rect x="495.60" y="354.08" width="26.02" height="7.54" fill="#1a2a0b"/><rect x="521.62" y="354.08" width="26.02" height="7.54" fill="#c60000"/><rect x="547.64" y="354.08" width="26.02" height="7.54" fill="#1a2a0b"/><rect x="573.66" y="354.08" width="26.02" height="7.54" fill="#1a2a0b"/><rect x="599.68" y="354.08" width="26.02" height="7.54" fill="#b40000"/><rect x="625.70" y="354.08" width="26.02" height="7.54" fill="#1a2a0b"/><rect x="235.40" y="361.62" width="26.02" height="7.54" fill="#1a2a0b"/><rect x="261.42" y="361.62" width="26.02" height="7.54" fill="#1a2a0b"/><rect x="287.44" y="361.62" width="26.02" height="7.54" fill="#1a2a0b"/><rect x="313.46" y="361.62" width="26.02" height="7.54" fill="#1a2a0b"/><rect x="339.48" y="361.62" width="26.02" height="7.54" fill="#1a2a0b"/><rect x="365.50" y="361.62" width="26.02" height="7.54" fill="#1a2a0b"/><rect x="391.52" y="361.62" width="26.02" height="7.54" fill="#1a2a0b"/><rect x="417.54" y="361.62" width="26.02" height="7.54" fill="#1a2a0b"/><rect x="443.56" y="361.62" width="26.02" height="7.54" fill="#1a2a0b"/><rect x="469.58" y="361.62" width="26.02" height="7.54" fill="#1a2a0b"/><rect x="495.60" y="361.62" width="26.02" height="7.54" fill="#1a2a0b"/><rect x="521.62" y="361.62" width="26.02" height="7.54" fill="#d60000"/><rect x="547.64" y="361.62" width="26.02" height="7.54" fill="#1a2a0b"/><rect x="573.66" y="361.62" width="26.02" height="7.54" fill="#1a2a0b"/><rect x="599.68" y="361.62" width="26.02" height="7.54" fill="#580000"/><rect x="625.70" y="361.62" width="26.02" height="7.54" fill="#1a2a0b"/><rect x="235.40" y="369.15" width="26.02" height="7.54" fill="#1a2a0b"/><rect x="261.42" y="369.15" width="26.02" height="7.54" fill="#1a2a0b"/><rect x="287.44" y="369.15" width="26.02" height="7.54" fill="#1a2a0b"/><rect x="313.46" y="369.15" width="26.02" height="7.54" fill="#1a2a0b"/><rect x="339.48" y="369.15" width="26.02" height="7.54" fill="#1a2a0b"/><rect x="365.50" y="369.15" width="26.02" height="7.54" fill="#1a2a0b"/><rect x="391.52" y="369.15" width="26.02" height="7.54" fill="#1a2a0b"/><rect x="417.54" y="369.15" width="26.02" height="7.54" fill="#1a2a0b"/><rect x="443.56" y="369.15" width="26.02" height="7.54" fill="#1a2a0b"/><rect x="469.58" y="369.15" width="26.02" height="7.54" fill="#1a2a0b"/><rect x="495.60" y="369.15" width="26.02" height="7.54" fill="#1a2a0b"/><rect x="521.62" y="369.15" width="26.02" height="7.54" fill="#d60000"/><rect x="547.64" y="369.15" width="26.02" height="7.54" fill="#1a2a0b"/><rect x="573.66" y="369.15" width="26.02" height="7.54" fill="#1a2a0b"/><rect x="599.68" y="369.15" width="26.02" height="7.54" fill="#580000"/><rect x="625.70" y="369.15" width="26.02" height="7.54" fill="#1a2a0b"/><rect x="235.40" y="376.69" width="26.02" height="7.54" fill="#1a2a0b"/><rect x="261.42" y="376.69" width="26.02" height="7.54" fill="#1a2a0b"/><rect x="287.44" y="376.69" width="26.02" height="7.54" fill="#1a2a0b"/><rect x="313.46" y="376.69" width="26.02" height="7.54" fill="#1a2a0b"/><rect x="339.48" y="376.69" width="26.02" height="7.54" fill="#1a2a0b"/><rect x="365.50" y="376.69" width="26.02" height="7.54" fill="#1a2a0b"/><rect x="391.52" y="376.69" width="26.02" height="7.54" fill="#0f1907"/><rect x="417.54" y="376.69" width="26.02" height="7.54" fill="#1a2a0b"/><rect x="443.56" y="376.69" width="26.02" height="7.54" fill="#1a2a0b"/><rect x="469.58" y="376.69" width="26.02" height="7.54" fill="#1a2a0b"/><rect x="495.60" y="376.69" width="26.02" height="7.54" fill="#1a2a0b"/><rect x="521.62" y="376.69" width="26.02" height="7.54" fill="#1a2a0b"/><rect x="547.64" y="376.69" width="26.02" height="7.54" fill="#580000"/><rect x="573.66" y="376.69" width="26.02" height="7.54" fill="#c60000"/><rect x="599.68" y="376.69" width="26.02" height="7.54" fill="#700000"/><rect x="625.70" y="376.69" width="26.02" height="7.54" fill="#1f3510"/><rect x="235.40" y="384.23" width="26.02" height="7.54" fill="#1f3510"/><rect x="261.42" y="384.23" width="26.02" height="7.54" fill="#1f3510"/><rect x="287.44" y="384.23" width="26.02" height="7.54" fill="#1f3510"/><rect x="313.46" y="384.23" width="26.02" height="7.54" fill="#1f3510"/><rect x="339.48" y="384.23" width="26.02" height="7.54" fill="#1f3510"/><rect x="365.50" y="384.23" width="26.02" height="7.54" fill="#1f3510"/><rect x="391.52" y="384.23" width="26.02" height="7.54" fill="#1a2a0b"/><rect x="417.54" y="384.23" width="26.02" height="7.54" fill="#1a2a0b"/><rect x="443.56" y="384.23" width="26.02" height="7.54" fill="#1f3510"/><rect x="469.58" y="384.23" width="26.02" height="7.54" fill="#1f3510"/><rect x="495.60" y="384.23" width="26.02" height="7.54" fill="#1f3510"/><rect x="521.62" y="384.23" width="26.02" height="7.54" fill="#1f3510"/><rect x="547.64" y="384.23" width="26.02" height="7.54" fill="#b40000"/><rect x="573.66" y="384.23" width="26.02" height="7.54" fill="#420000"/><rect x="599.68" y="384.23" width="26.02" height="7.54" fill="#580000"/><rect x="625.70" y="384.23" width="26.02" height="7.54" fill="#2e0000"/><rect x="235.40" y="391.77" width="26.02" height="7.54" fill="#24420f"/><rect x="261.42" y="391.77" width="26.02" height="7.54" fill="#24420f"/><rect x="287.44" y="391.77" width="26.02" height="7.54" fill="#24420f"/><rect x="313.46" y="391.77" width="26.02" height="7.54" fill="#24420f"/><rect x="339.48" y="391.77" width="26.02" height="7.54" fill="#24420f"/><rect x="365.50" y="391.77" width="26.02" height="7.54" fill="#24420f"/><rect x="391.52" y="391.77" width="26.02" height="7.54" fill="#1f3510"/><rect x="417.54" y="391.77" width="26.02" height="7.54" fill="#880000"/><rect x="443.56" y="391.77" width="26.02" height="7.54" fill="#070707"/><rect x="469.58" y="391.77" width="26.02" height="7.54" fill="#24420f"/><rect x="495.60" y="391.77" width="26.02" height="7.54" fill="#880000"/><rect x="521.62" y="391.77" width="26.02" height="7.54" fill="#420000"/><rect x="547.64" y="391.77" width="26.02" height="7.54" fill="#1a0000"/><rect x="573.66" y="391.77" width="26.02" height="7.54" fill="#24420f"/><rect x="599.68" y="391.77" width="26.02" height="7.54" fill="#880000"/><rect x="625.70" y="391.77" width="26.02" height="7.54" fill="#1a0000"/><rect x="235.40" y="399.30" width="26.02" height="7.54" fill="#24420f"/><rect x="261.42" y="399.30" width="26.02" height="7.54" fill="#24420f"/><rect x="287.44" y="399.30" width="26.02" height="7.54" fill="#1f3510"/><rect x="313.46" y="399.30" width="26.02" height="7.54" fill="#24420f"/><rect x="339.48" y="399.30" width="26.02" height="7.54" fill="#24420f"/><rect x="365.50" y="399.30" width="26.02" height="7.54" fill="#24420f"/><rect x="391.52" y="399.30" width="26.02" height="7.54" fill="#0f1907"/><rect x="417.54" y="399.30" width="26.02" height="7.54" fill="#b40000"/><rect x="443.56" y="399.30" width="26.02" height="7.54" fill="#24420f"/><rect x="469.58" y="399.30" width="26.02" height="7.54" fill="#1f3510"/><rect x="495.60" y="399.30" width="26.02" height="7.54" fill="#1f3510"/><rect x="521.62" y="399.30" width="26.02" height="7.54" fill="#580000"/><rect x="547.64" y="399.30" width="26.02" height="7.54" fill="#070707"/><rect x="573.66" y="399.30" width="26.02" height="7.54" fill="#1f3510"/><rect x="599.68" y="399.30" width="26.02" height="7.54" fill="#880000"/><rect x="625.70" y="399.30" width="26.02" height="7.54" fill="#580000"/><rect x="235.40" y="406.84" width="26.02" height="7.54" fill="#24420f"/><rect x="261.42" y="406.84" width="26.02" height="7.54" fill="#24420f"/><rect x="287.44" y="406.84" width="26.02" height="7.54" fill="#1f3510"/><rect x="313.46" y="406.84" width="26.02" height="7.54" fill="#24420f"/><rect x="339.48" y="406.84" width="26.02" height="7.54" fill="#24420f"/><rect x="365.50" y="406.84" width="26.02" height="7.54" fill="#24420f"/><rect x="391.52" y="406.84" width="26.02" height="7.54" fill="#1f3510"/><rect x="417.54" y="406.84" width="26.02" height="7.54" fill="#700000"/><rect x="443.56" y="406.84" width="26.02" height="7.54" fill="#24420f"/><rect x="469.58" y="406.84" width="26.02" height="7.54" fill="#070707"/><rect x="495.60" y="406.84" width="26.02" height="7.54" fill="#24420f"/><rect x="521.62" y="406.84" width="26.02" height="7.54" fill="#580000"/><rect x="547.64" y="406.84" width="26.02" height="7.54" fill="#070707"/><rect x="573.66" y="406.84" width="26.02" height="7.54" fill="#1f3510"/><rect x="599.68" y="406.84" width="26.02" height="7.54" fill="#b40000"/><rect x="625.70" y="406.84" width="26.02" height="7.54" fill="#580000"/><rect x="235.40" y="414.38" width="26.02" height="7.54" fill="#0f1907"/><rect x="261.42" y="414.38" width="26.02" height="7.54" fill="#0f1907"/><rect x="287.44" y="414.38" width="26.02" height="7.54" fill="#0f1907"/><rect x="313.46" y="414.38" width="26.02" height="7.54" fill="#0f1907"/><rect x="339.48" y="414.38" width="26.02" height="7.54" fill="#0f1907"/><rect x="365.50" y="414.38" width="26.02" height="7.54" fill="#0f1907"/><rect x="391.52" y="414.38" width="26.02" height="7.54" fill="#0f1907"/><rect x="417.54" y="414.38" width="26.02" height="7.54" fill="#0f1907"/><rect x="443.56" y="414.38" width="26.02" height="7.54" fill="#b40000"/><rect x="469.58" y="414.38" width="26.02" height="7.54" fill="#1a2a0b"/><rect x="495.60" y="414.38" width="26.02" height="7.54" fill="#1a2a0b"/><rect x="521.62" y="414.38" width="26.02" height="7.54" fill="#1a2a0b"/><rect x="547.64" y="414.38" width="26.02" height="7.54" fill="#0f1907"/><rect x="573.66" y="414.38" width="26.02" height="7.54" fill="#1f3510"/><rect x="599.68" y="414.38" width="26.02" height="7.54" fill="#d60000"/><rect x="625.70" y="414.38" width="26.02" height="7.54" fill="#1f3510"/><rect x="235.40" y="421.91" width="26.02" height="7.54" fill="#1a2a0b"/><rect x="261.42" y="421.91" width="26.02" height="7.54" fill="#1a2a0b"/><rect x="287.44" y="421.91" width="26.02" height="7.54" fill="#1a2a0b"/><rect x="313.46" y="421.91" width="26.02" height="7.54" fill="#1a2a0b"/><rect x="339.48" y="421.91" width="26.02" height="7.54" fill="#1a2a0b"/><rect x="365.50" y="421.91" width="26.02" height="7.54" fill="#1a2a0b"/><rect x="391.52" y="421.91" width="26.02" height="7.54" fill="#1a2a0b"/><rect x="417.54" y="421.91" width="26.02" height="7.54" fill="#1a2a0b"/><rect x="443.56" y="421.91" width="26.02" height="7.54" fill="#1a2a0b"/><rect x="469.58" y="421.91" width="26.02" height="7.54" fill="#1a2a0b"/><rect x="495.60" y="421.91" width="26.02" height="7.54" fill="#1a2a0b"/><rect x="521.62" y="421.91" width="26.02" height="7.54" fill="#b40000"/><rect x="547.64" y="421.91" width="26.02" height="7.54" fill="#0f1907"/><rect x="573.66" y="421.91" width="26.02" height="7.54" fill="#1a0000"/><rect x="599.68" y="421.91" width="26.02" height="7.54" fill="#d60000"/><rect x="625.70" y="421.91" width="26.02" height="7.54" fill="#1a0000"/><rect x="235.40" y="429.45" width="26.02" height="7.54" fill="#1f3510"/><rect x="261.42" y="429.45" width="26.02" height="7.54" fill="#1f3510"/><rect x="287.44" y="429.45" width="26.02" height="7.54" fill="#1a0000"/><rect x="313.46" y="429.45" width="26.02" height="7.54" fill="#0f1907"/><rect x="339.48" y="429.45" width="26.02" height="7.54" fill="#1f3510"/><rect x="365.50" y="429.45" width="26.02" height="7.54" fill="#1f3510"/><rect x="391.52" y="429.45" width="26.02" height="7.54" fill="#2e0000"/><rect x="417.54" y="429.45" width="26.02" height="7.54" fill="#1f3510"/><rect x="443.56" y="429.45" width="26.02" height="7.54" fill="#1f3510"/><rect x="469.58" y="429.45" width="26.02" height="7.54" fill="#1f3510"/><rect x="495.60" y="429.45" width="26.02" height="7.54" fill="#1f3510"/><rect x="521.62" y="429.45" width="26.02" height="7.54" fill="#580000"/><rect x="547.64" y="429.45" width="26.02" height="7.54" fill="#2e0000"/><rect x="573.66" y="429.45" width="26.02" height="7.54" fill="#1a0000"/><rect x="599.68" y="429.45" width="26.02" height="7.54" fill="#b40000"/><rect x="625.70" y="429.45" width="26.02" height="7.54" fill="#1a0000"/><rect x="235.40" y="436.99" width="26.02" height="7.54" fill="#1f3510"/><rect x="261.42" y="436.99" width="26.02" height="7.54" fill="#1f3510"/><rect x="287.44" y="436.99" width="26.02" height="7.54" fill="#0f1907"/><rect x="313.46" y="436.99" width="26.02" height="7.54" fill="#1f3510"/><rect x="339.48" y="436.99" width="26.02" height="7.54" fill="#1f3510"/><rect x="365.50" y="436.99" width="26.02" height="7.54" fill="#580000"/><rect x="391.52" y="436.99" width="26.02" height="7.54" fill="#1f3510"/><rect x="417.54" y="436.99" width="26.02" height="7.54" fill="#1f3510"/><rect x="443.56" y="436.99" width="26.02" height="7.54" fill="#1a0000"/><rect x="469.58" y="436.99" width="26.02" height="7.54" fill="#1f3510"/><rect x="495.60" y="436.99" width="26.02" height="7.54" fill="#1f3510"/><rect x="521.62" y="436.99" width="26.02" height="7.54" fill="#2e0000"/><rect x="547.64" y="436.99" width="26.02" height="7.54" fill="#2e0000"/><rect x="573.66" y="436.99" width="26.02" height="7.54" fill="#2e0000"/><rect x="599.68" y="436.99" width="26.02" height="7.54" fill="#d60000"/><rect x="625.70" y="436.99" width="26.02" height="7.54" fill="#24420f"/><rect x="235.40" y="444.52" width="26.02" height="7.54" fill="#1a2a0b"/><rect x="261.42" y="444.52" width="26.02" height="7.54" fill="#1a2a0b"/><rect x="287.44" y="444.52" width="26.02" height="7.54" fill="#1f3510"/><rect x="313.46" y="444.52" width="26.02" height="7.54" fill="#1a2a0b"/><rect x="339.48" y="444.52" width="26.02" height="7.54" fill="#0f1907"/><rect x="365.50" y="444.52" width="26.02" height="7.54" fill="#1a2a0b"/><rect x="391.52" y="444.52" width="26.02" height="7.54" fill="#1a2a0b"/><rect x="417.54" y="444.52" width="26.02" height="7.54" fill="#1a2a0b"/><rect x="443.56" y="444.52" width="26.02" height="7.54" fill="#1f3510"/><rect x="469.58" y="444.52" width="26.02" height="7.54" fill="#1f3510"/><rect x="495.60" y="444.52" width="26.02" height="7.54" fill="#1f3510"/><rect x="521.62" y="444.52" width="26.02" height="7.54" fill="#1a0000"/><rect x="547.64" y="444.52" width="26.02" height="7.54" fill="#1a0000"/><rect x="573.66" y="444.52" width="26.02" height="7.54" fill="#1a0000"/><rect x="599.68" y="444.52" width="26.02" height="7.54" fill="#d60000"/><rect x="625.70" y="444.52" width="26.02" height="7.54" fill="#2e0000"/><rect x="235.40" y="452.06" width="26.02" height="7.54" fill="#0f1907"/><rect x="261.42" y="452.06" width="26.02" height="7.54" fill="#0f1907"/><rect x="287.44" y="452.06" width="26.02" height="7.54" fill="#0f1907"/><rect x="313.46" y="452.06" width="26.02" height="7.54" fill="#0f1907"/><rect x="339.48" y="452.06" width="26.02" height="7.54" fill="#0f1907"/><rect x="365.50" y="452.06" width="26.02" height="7.54" fill="#0f1907"/><rect x="391.52" y="452.06" width="26.02" height="7.54" fill="#0f1907"/><rect x="417.54" y="452.06" width="26.02" height="7.54" fill="#0f1907"/><rect x="443.56" y="452.06" width="26.02" height="7.54" fill="#0f1907"/><rect x="469.58" y="452.06" width="26.02" height="7.54" fill="#0f1907"/><rect x="495.60" y="452.06" width="26.02" height="7.54" fill="#070707"/><rect x="521.62" y="452.06" width="26.02" height="7.54" fill="#0f1907"/><rect x="547.64" y="452.06" width="26.02" height="7.54" fill="#1a2a0b"/><rect x="573.66" y="452.06" width="26.02" height="7.54" fill="#1a0000"/><rect x="599.68" y="452.06" width="26.02" height="7.54" fill="#d60000"/><rect x="625.70" y="452.06" width="26.02" height="7.54" fill="#070707"/></g>
<rect x="235.10" y="52.60" width="1.1" height="407.00" fill="#0a0a0a"/>
<path d="M218.30 63.91H235.20M218.30 71.44H235.20M218.30 63.91V71.44M227.00 86.52H235.20M227.00 94.05H235.20M227.00 86.52V94.05M220.80 101.59H235.20M220.80 109.13H235.20M220.80 101.59V109.13M215.40 90.28H227.00M215.40 105.36H220.80M215.40 90.28V105.36M211.80 78.98H235.20M211.80 97.82H215.40M211.80 78.98V97.82M203.40 67.67H218.30M203.40 88.40H211.80M203.40 67.67V88.40M198.40 56.37H235.20M198.40 78.04H203.40M198.40 56.37V78.04M216.60 124.20H235.20M216.60 131.74H235.20M216.60 124.20V131.74M207.60 116.66H235.20M207.60 127.97H216.60M207.60 116.66V127.97M232.10 146.81H235.20M232.10 154.35H235.20M232.10 146.81V154.35M223.40 161.89H235.20M223.40 169.42H235.20M223.40 161.89V169.42M215.40 150.58H232.10M215.40 165.66H223.40M215.40 150.58V165.66M201.20 139.28H235.20M201.20 158.12H215.40M201.20 139.28V158.12M196.50 122.32H207.60M196.50 148.70H201.20M196.50 122.32V148.70M210.50 176.96H235.20M210.50 184.50H235.20M210.50 176.96V184.50M208.50 199.57H235.20M208.50 207.11H235.20M208.50 199.57V207.11M191.10 192.03H235.20M191.10 203.34H208.50M191.10 192.03V203.34M182.30 180.73H210.50M182.30 197.69H191.10M182.30 180.73V197.69M179.40 135.51H196.50M179.40 189.21H182.30M179.40 135.51V189.21M177.50 67.20H198.40M177.50 162.36H179.40M177.50 67.20V162.36M224.30 229.72H235.20M224.30 237.26H235.20M224.30 229.72V237.26M208.20 222.18H235.20M208.20 233.49H224.30M208.20 222.18V233.49M197.80 214.65H235.20M197.80 227.84H208.20M197.80 214.65V227.84M204.40 252.33H235.20M204.40 259.87H235.20M204.40 252.33V259.87M193.40 244.79H235.20M193.40 256.10H204.40M193.40 244.79V256.10M223.00 274.94H235.20M223.00 282.48H235.20M223.00 274.94V282.48M210.20 267.40H235.20M210.20 278.71H223.00M210.20 267.40V278.71M226.90 297.55H235.20M226.90 305.09H235.20M226.90 297.55V305.09M220.60 290.02H235.20M220.60 301.32H226.90M220.60 290.02V301.32M225.40 320.16H235.20M225.40 327.70H235.20M225.40 320.16V327.70M215.70 312.63H235.20M215.70 323.93H225.40M215.70 312.63V323.93M208.50 295.67H220.60M208.50 318.28H215.70M208.50 295.67V318.28M198.80 273.06H210.20M198.80 306.97H208.50M198.80 273.06V306.97M216.60 335.24H235.20M216.60 342.77H235.20M216.60 335.24V342.77M233.10 365.39H235.20M233.10 372.92H235.20M233.10 365.39V372.92M224.70 357.85H235.20M224.70 369.15H233.10M224.70 357.85V369.15M212.20 350.31H235.20M212.20 363.50H224.70M212.20 350.31V363.50M199.20 339.01H216.60M199.20 356.91H212.20M199.20 339.01V356.91M206.20 380.46H235.20M206.20 388.00H235.20M206.20 380.46V388.00M221.90 403.07H235.20M221.90 410.61H235.20M221.90 403.07V410.61M207.90 395.53H235.20M207.90 406.84H221.90M207.90 395.53V406.84M217.90 425.68H235.20M217.90 433.22H235.20M217.90 425.68V433.22M222.50 448.29H235.20M222.50 455.83H235.20M222.50 448.29V455.83M212.40 440.76H235.20M212.40 452.06H222.50M212.40 440.76V452.06M207.90 429.45H217.90M207.90 446.41H212.40M207.90 429.45V446.41M197.80 418.14H235.20M197.80 437.93H207.90M197.80 418.14V437.93M190.40 401.19H207.90M190.40 428.04H197.80M190.40 401.19V428.04M186.50 384.23H206.20M186.50 414.61H190.40M186.50 384.23V414.61M182.80 347.96H199.20M182.80 399.42H186.50M182.80 347.96V399.42M182.00 290.02H198.80M182.00 373.69H182.80M182.00 290.02V373.69M178.50 250.45H193.40M178.50 331.85H182.00M178.50 250.45V331.85M177.20 221.24H197.80M177.20 291.15H178.50M177.20 221.24V291.15M169.70 114.78H177.50M169.70 256.19H177.20M169.70 114.78V256.19" stroke="#050505" stroke-width="1.4" fill="none" stroke-linecap="square"/>
<text x="654.2" y="59.37" class="rl" textLength="47.59" lengthAdjust="spacingAndGlyphs">hsa_circ_006206</text><text x="654.2" y="66.91" class="rl" textLength="47.59" lengthAdjust="spacingAndGlyphs">hsa_circ_006041</text><text x="654.2" y="74.44" class="rl" textLength="47.59" lengthAdjust="spacingAndGlyphs">hsa_circ_006371</text><text x="653.2" y="81.98" class="rl" style="font-size:7.4px;fill:#c8202e" textLength="52.16" lengthAdjust="spacingAndGlyphs">hsa_circ_009755</text><text x="654.2" y="89.52" class="rl" textLength="47.59" lengthAdjust="spacingAndGlyphs">hsa_circ_002873</text><text x="654.2" y="97.05" class="rl" textLength="47.59" lengthAdjust="spacingAndGlyphs">hsa_circ_005779</text><text x="654.2" y="104.59" class="rl" textLength="47.59" lengthAdjust="spacingAndGlyphs">hsa_circ_003837</text><text x="654.2" y="112.13" class="rl" textLength="47.59" lengthAdjust="spacingAndGlyphs">hsa_circ_007724</text><text x="654.2" y="119.66" class="rl" textLength="51.07" lengthAdjust="spacingAndGlyphs">hsa_circ_0005379</text><text x="654.2" y="127.20" class="rl" textLength="47.59" lengthAdjust="spacingAndGlyphs">hsa_circ_006369</text><text x="654.2" y="134.74" class="rl" textLength="47.59" lengthAdjust="spacingAndGlyphs">hsa_circ_011028</text><text x="654.2" y="142.28" class="rl" textLength="47.59" lengthAdjust="spacingAndGlyphs">hsa_circ_004290</text><text x="654.2" y="149.81" class="rl" textLength="47.59" lengthAdjust="spacingAndGlyphs">hsa_circ_001095</text><text x="654.2" y="157.35" class="rl" textLength="47.59" lengthAdjust="spacingAndGlyphs">hsa_circ_007366</text><text x="654.2" y="164.89" class="rl" textLength="47.59" lengthAdjust="spacingAndGlyphs">hsa_circ_000334</text><text x="654.2" y="172.42" class="rl" textLength="47.59" lengthAdjust="spacingAndGlyphs">hsa_circ_001054</text><text x="654.2" y="179.96" class="rl" textLength="47.59" lengthAdjust="spacingAndGlyphs">hsa_circ_001834</text><text x="654.2" y="187.50" class="rl" textLength="47.59" lengthAdjust="spacingAndGlyphs">hsa_circ_007300</text><text x="654.2" y="195.03" class="rl" textLength="47.59" lengthAdjust="spacingAndGlyphs">hsa_circ_000689</text><text x="654.2" y="202.57" class="rl" textLength="47.59" lengthAdjust="spacingAndGlyphs">hsa_circ_008049</text><text x="654.2" y="210.11" class="rl" textLength="47.59" lengthAdjust="spacingAndGlyphs">hsa_circ_009346</text><text x="654.2" y="217.65" class="rl" textLength="47.59" lengthAdjust="spacingAndGlyphs">hsa_circ_003644</text><text x="654.2" y="225.18" class="rl" textLength="47.59" lengthAdjust="spacingAndGlyphs">hsa_circ_009749</text><text x="654.2" y="232.72" class="rl" textLength="47.59" lengthAdjust="spacingAndGlyphs">hsa_circ_009555</text><text x="654.2" y="240.26" class="rl" textLength="47.59" lengthAdjust="spacingAndGlyphs">hsa_circ_010219</text><text x="654.2" y="247.79" class="rl" textLength="47.59" lengthAdjust="spacingAndGlyphs">hsa_circ_002578</text><text x="654.2" y="255.33" class="rl" textLength="47.59" lengthAdjust="spacingAndGlyphs">hsa_circ_008986</text><text x="654.2" y="262.87" class="rl" textLength="47.59" lengthAdjust="spacingAndGlyphs">hsa_circ_010658</text><text x="654.2" y="270.40" class="rl" textLength="47.59" lengthAdjust="spacingAndGlyphs">hsa_circ_003819</text><text x="654.2" y="277.94" class="rl" textLength="47.59" lengthAdjust="spacingAndGlyphs">hsa_circ_007579</text><text x="654.2" y="285.48" class="rl" textLength="47.59" lengthAdjust="spacingAndGlyphs">hsa_circ_010659</text><text x="654.2" y="293.02" class="rl" textLength="47.59" lengthAdjust="spacingAndGlyphs">hsa_circ_006570</text><text x="654.2" y="300.55" class="rl" textLength="47.59" lengthAdjust="spacingAndGlyphs">hsa_circ_001214</text><text x="654.2" y="308.09" class="rl" textLength="47.59" lengthAdjust="spacingAndGlyphs">hsa_circ_007992</text><text x="654.2" y="315.63" class="rl" textLength="47.59" lengthAdjust="spacingAndGlyphs">hsa_circ_003195</text><text x="654.2" y="323.16" class="rl" textLength="47.59" lengthAdjust="spacingAndGlyphs">hsa_circ_000292</text><text x="654.2" y="330.70" class="rl" textLength="47.59" lengthAdjust="spacingAndGlyphs">hsa_circ_007614</text><text x="654.2" y="338.24" class="rl" textLength="47.59" lengthAdjust="spacingAndGlyphs">hsa_circ_005746</text><text x="654.2" y="345.77" class="rl" textLength="47.59" lengthAdjust="spacingAndGlyphs">hsa_circ_008276</text><text x="654.2" y="353.31" class="rl" textLength="47.59" lengthAdjust="spacingAndGlyphs">hsa_circ_003887</text><text x="654.2" y="360.85" class="rl" textLength="47.59" lengthAdjust="spacingAndGlyphs">hsa_circ_010395</text><text x="654.2" y="368.39" class="rl" textLength="47.59" lengthAdjust="spacingAndGlyphs">hsa_circ_002858</text><text x="654.2" y="375.92" class="rl" textLength="47.59" lengthAdjust="spacingAndGlyphs">hsa_circ_005407</text><text x="654.2" y="383.46" class="rl" textLength="47.59" lengthAdjust="spacingAndGlyphs">hsa_circ_002005</text><text x="654.2" y="391.00" class="rl" textLength="47.59" lengthAdjust="spacingAndGlyphs">hsa_circ_009543</text><text x="654.2" y="398.53" class="rl" textLength="47.59" lengthAdjust="spacingAndGlyphs">hsa_circ_001186</text><text x="654.2" y="406.07" class="rl" textLength="47.59" lengthAdjust="spacingAndGlyphs">hsa_circ_002518</text><text x="654.2" y="413.61" class="rl" textLength="47.59" lengthAdjust="spacingAndGlyphs">hsa_circ_006740</text><text x="654.2" y="421.14" class="rl" textLength="47.59" lengthAdjust="spacingAndGlyphs">hsa_circ_004324</text><text x="654.2" y="428.68" class="rl" textLength="47.59" lengthAdjust="spacingAndGlyphs">hsa_circ_006578</text><text x="654.2" y="436.22" class="rl" textLength="47.59" lengthAdjust="spacingAndGlyphs">hsa_circ_010231</text><text x="654.2" y="443.76" class="rl" textLength="47.59" lengthAdjust="spacingAndGlyphs">hsa_circ_009351</text><text x="654.2" y="451.29" class="rl" textLength="47.59" lengthAdjust="spacingAndGlyphs">hsa_circ_003654</text><text x="654.2" y="458.83" class="rl" textLength="47.59" lengthAdjust="spacingAndGlyphs">hsa_circ_003667</text>
<text transform="translate(246.50,464.5) rotate(90)" class="cl">NOR-1</text><text transform="translate(272.35,464.5) rotate(90)" class="cl">NOR-2</text><text transform="translate(298.20,464.5) rotate(90)" class="cl">NOR-3</text><text transform="translate(324.05,464.5) rotate(90)" class="cl">NOR-4</text><text transform="translate(349.90,464.5) rotate(90)" class="cl">NOR-5</text><text transform="translate(375.75,464.5) rotate(90)" class="cl">NOR-6</text><text transform="translate(401.60,464.5) rotate(90)" class="cl">NOR-7</text><text transform="translate(427.45,464.5) rotate(90)" class="cl">NOR-8</text><text transform="translate(453.30,464.5) rotate(90)" class="cl">CAN-1</text><text transform="translate(479.15,464.5) rotate(90)" class="cl">CAN-2</text><text transform="translate(505.00,464.5) rotate(90)" class="cl">CAN-3</text><text transform="translate(530.85,464.5) rotate(90)" class="cl">CAN-4</text><text transform="translate(556.70,464.5) rotate(90)" class="cl">CAN-5</text><text transform="translate(582.55,464.5) rotate(90)" class="cl">CAN-6</text><text transform="translate(608.40,464.5) rotate(90)" class="cl">CAN-7</text><text transform="translate(634.25,464.5) rotate(90)" class="cl">CAN-8</text>
<text x="722" y="61.7" class="tk">3</text><text x="722" y="86.3" class="tk">2</text><text x="722" y="110.1" class="tk">1</text><text x="722" y="134.2" class="tk">0</text><text x="722" y="158.7" class="tk">-1</text><text x="722" y="182.9" class="tk">-2</text><text x="722" y="207.1" class="tk">-3</text>
<text x="743" y="40.5" class="lg">Group</text>
<rect x="742.5" y="48.5" width="17.5" height="18" fill="#78d7dc"/>
<rect x="742.5" y="66.5" width="17.5" height="18" fill="#e48c84"/>
<text x="762.5" y="62.4" class="lg">CAN</text>
<text x="762.5" y="80.2" class="lg">NOR</text>
</svg>
<div class="cap">
<div class="ln j"><b>Figure 1</b> Differentially expressed circRNAs between OSCC tissues and adjacent nontumorous tissues. The results of hierarchical cluster analysis showed that the</div>
<div class="ln j" style="letter-spacing:0.18px">differentiable expression profiles of circRNA between the samples (for OSCC, CAN, and NOR). Each column represents the expression of tissue samples. The expression</div>
<div class="ln">level was indicated from &#8220;red&#8221; (high expression) to &#8220;green&#8221; (low expression).</div>
<div class="ln"><b>Abbreviations:</b> CAN, cancerous; NOR, normal adjacent nontumorous tissue; OSCC, oral squamous cell carcinoma.</div>
</div>
</body></html>
